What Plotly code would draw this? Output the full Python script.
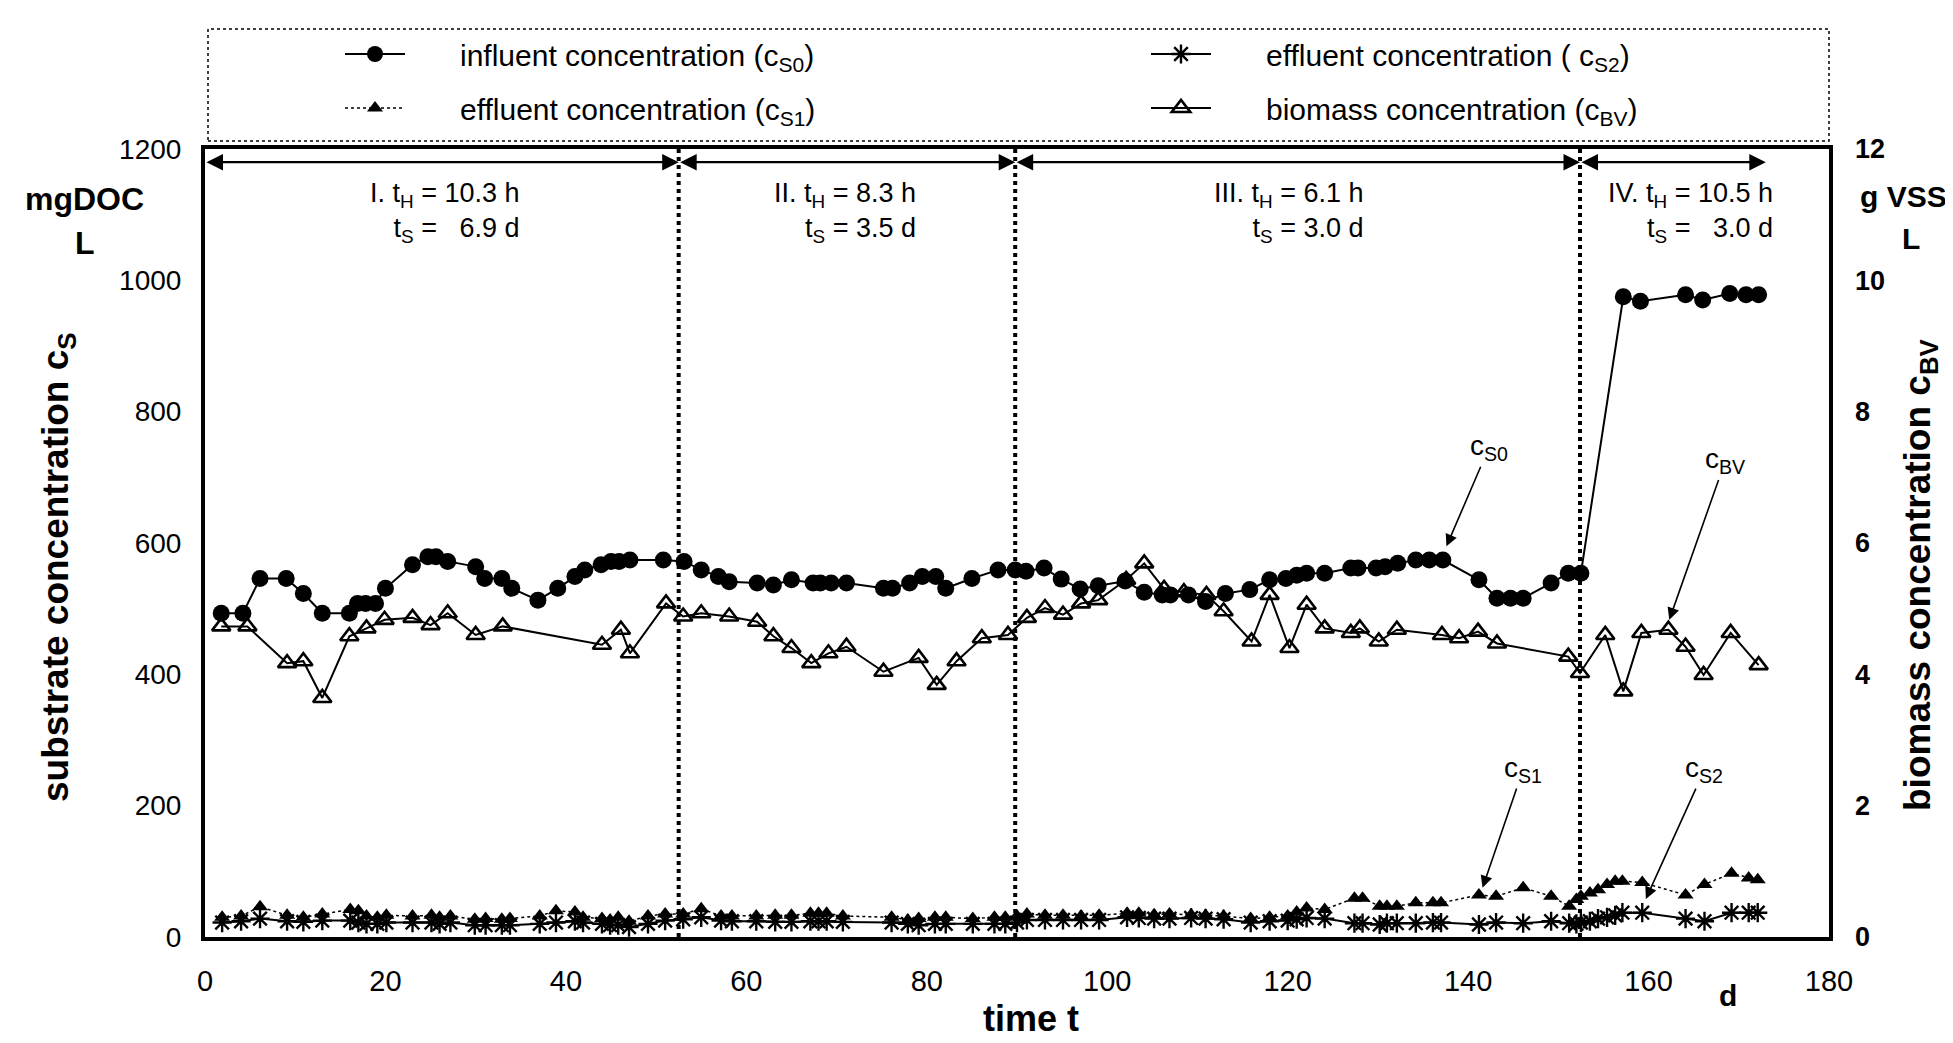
import plotly.graph_objects as go

# ---------------- data ----------------
t_s0 = [1.8, 4.2, 6.1, 9.0, 10.9, 13.0, 16.0, 16.9, 17.8, 18.9,
        20.0, 23.0, 24.7, 25.6, 26.9, 30.0, 31.0, 32.9, 34.0, 36.9,
        39.1, 41.0, 42.1, 43.9, 45.0, 45.9, 47.1, 50.8, 53.1, 55.0,
        56.9, 58.1, 61.2, 63.0, 65.0, 67.4, 68.2, 69.4, 71.1, 75.2,
        76.2, 78.1, 79.5, 81.0, 82.1, 85.0, 87.9, 89.8, 91.0, 93.0,
        94.9, 97.0, 99.0, 102.0, 104.1, 106.1, 107.0, 109.0, 110.9, 113.1,
        115.8, 118.0, 119.8, 121.0, 122.1, 124.1, 127.0, 127.8, 129.8, 130.8,
        132.2, 134.2, 135.7, 137.2, 141.2, 143.2, 144.7, 146.1, 149.2, 151.1,
        152.5, 157.2, 159.1, 164.1, 166.0, 169.0, 170.8, 172.2]
c_s0 = [493, 493, 546, 546, 523, 493, 493, 508, 508, 508,
        531, 567, 579, 579, 572, 564, 546, 546, 531, 513,
        531, 549, 559, 567, 572, 572, 574, 574, 572, 559,
        549, 541, 539, 536, 544, 539, 539, 539, 539, 531,
        531, 539, 549, 549, 531, 546, 559, 559, 557, 562,
        545, 530, 535, 542, 525, 521, 521, 521, 511, 523,
        529, 544, 546, 551, 554, 554, 562, 562, 562, 564,
        569, 574, 574, 574, 544, 516, 516, 516, 539, 554,
        554, 975, 968, 978, 970, 980, 978, 978]

t_s1 = [1.9, 4.0, 6.1, 9.1, 10.9, 13.0, 16.1, 17.0, 17.9, 19.1,
        20.1, 23.0, 25.1, 26.0, 27.2, 29.9, 31.1, 32.9, 33.8, 37.1,
        38.9, 41.0, 41.9, 44.0, 44.9, 45.8, 47.0, 49.1, 51.0, 53.0,
        55.0, 57.2, 58.4, 61.1, 63.2, 65.0, 67.1, 68.0, 68.9, 70.7,
        76.1, 77.9, 79.1, 80.9, 82.1, 85.1, 87.5, 88.7, 90.0, 91.1,
        93.1, 95.1, 97.1, 99.1, 102.2, 103.5, 105.2, 106.9, 109.3, 110.9,
        112.9, 115.9, 118.0, 120.0, 121.0, 122.1, 124.1, 127.4, 128.3, 130.2,
        131.0, 132.1, 134.2, 136.1, 137.0, 141.2, 143.1, 146.1, 149.2, 151.2,
        152.0, 152.5, 153.5, 154.4, 155.4, 156.3, 157.1, 159.3, 164.1, 166.2,
        169.2, 171.1, 172.1]
c_s1 = [30, 32, 46, 33, 30, 35, 42, 40, 32, 30,
        33, 32, 33, 30, 32, 27, 28, 27, 28, 32,
        40, 38, 30, 28, 26, 30, 24, 32, 35, 35,
        43, 32, 32, 32, 33, 33, 36, 36, 36, 32,
        30, 26, 28, 30, 30, 28, 30, 30, 32, 35,
        33, 33, 32, 33, 36, 36, 34, 35, 34, 33,
        32, 28, 30, 32, 38, 44, 42, 59, 59, 47,
        47, 47, 52, 52, 52, 64, 62, 75, 62, 47,
        57, 62, 67, 72, 80, 85, 85, 83, 64, 80,
        97, 90, 87]

t_s2 = t_s1
c_s2 = [22, 24, 28, 24, 23, 25, 25, 22, 20, 20,
        22, 22, 22, 20, 22, 18, 18, 18, 18, 20,
        22, 24, 22, 20, 18, 18, 15, 20, 25, 27,
        30, 25, 24, 24, 23, 23, 24, 24, 24, 23,
        22, 20, 18, 20, 20, 20, 20, 20, 22, 26,
        26, 26, 26, 26, 30, 29, 28, 28, 29, 28,
        27, 22, 24, 25, 27, 29, 28, 21, 21, 19,
        21, 21, 21, 22, 22, 19, 22, 21, 24, 21,
        20, 22, 24, 28, 30, 33, 37, 37, 28, 24,
        37, 37, 37]

t_bv = [1.8, 4.7, 9.1, 10.9, 13.0, 16.0, 17.9, 19.9, 23.0, 25.0,
        26.9, 30.0, 33.0, 44.0, 46.1, 47.1, 51.1, 53.0, 55.0, 58.1,
        61.2, 63.0, 65.0, 67.2, 69.1, 71.1, 75.2, 79.1, 81.1, 83.3,
        86.1, 89.0, 91.1, 93.1, 95.1, 97.1, 99.0, 102.1, 104.1, 106.3,
        108.5, 111.0, 112.9, 116.0, 118.0, 120.2, 122.1, 124.1, 127.0, 128.0,
        130.1, 132.1, 137.1, 139.0, 141.1, 143.2, 151.1, 152.4, 155.2, 157.2,
        159.2, 162.2, 164.1, 166.1, 169.1, 172.2]
c_bv = [4.73, 4.73, 4.17, 4.20, 3.64, 4.58, 4.70, 4.83, 4.86, 4.75,
        4.93, 4.60, 4.73, 4.45, 4.68, 4.32, 5.08, 4.88, 4.93, 4.88,
        4.80, 4.58, 4.40, 4.17, 4.32, 4.42, 4.04, 4.25, 3.84, 4.20,
        4.55, 4.60, 4.86, 5.01, 4.91, 5.08, 5.13, 5.44, 5.69, 5.30,
        5.25, 5.21, 4.96, 4.50, 5.21, 4.40, 5.06, 4.70, 4.63, 4.70,
        4.50, 4.68, 4.60, 4.55, 4.65, 4.47, 4.27, 4.02, 4.60, 3.74,
        4.63, 4.68, 4.42, 3.99, 4.63, 4.14]

series_names = [
    "influent concentration (c<sub>S0</sub>)",
    "effluent concentration ( c<sub>S2</sub>)",
    "effluent concentration (c<sub>S1</sub>)",
    "biomass concentration (c<sub>BV</sub>)",
]

phase_bounds = [0, 52.5, 89.8, 152.4, 173.0]
phase_labels = [
    "I. t<sub>H</sub> = 10.3 h<br>t<sub>S</sub> =\u00a0\u00a0 6.9 d",
    "II. t<sub>H</sub> = 8.3 h<br>t<sub>S</sub> = 3.5 d",
    "III. t<sub>H</sub> = 6.1 h<br>t<sub>S</sub> = 3.0 d",
    "IV. t<sub>H</sub> = 10.5 h<br>t<sub>S</sub> =\u00a0\u00a0 3.0 d",
]
phase_label_right = [35.1, 79.0, 128.7, 174.0]

x_ticks = [0, 20, 40, 60, 80, 100, 120, 140, 160, 180]
y_ticks = [0, 200, 400, 600, 800, 1000, 1200]
y2_ticks = [0, 2, 4, 6, 8, 10, 12]

x_title = "time t"
y_title = "substrate concentration c<sub>S</sub>"
y2_title = "biomass concentration c<sub>BV</sub>"

# ---------------- layout geometry ----------------
W, H = 1953, 1043
L, R, T, B = 197, 1821, 141, 929
FONT = "Liberation Sans, Arial, sans-serif"


def px(xp, yp):
    return (xp - L) / (R - L), (B - yp) / (B - T)


fig = go.Figure()

fig.add_trace(go.Scatter(
    x=t_s0, y=c_s0, name=series_names[0], mode="lines+markers",
    line=dict(color="black", width=2),
    marker=dict(symbol="circle", size=17, color="black"),
    legend="legend"))
fig.add_trace(go.Scatter(
    x=t_s2, y=c_s2, name=series_names[1], mode="lines+markers",
    line=dict(color="black", width=2),
    marker=dict(symbol="asterisk-open", size=16, color="black",
                line=dict(color="black", width=2.4)),
    legend="legend2"))
fig.add_trace(go.Scatter(
    x=t_s1, y=c_s1, name=series_names[2], mode="lines+markers",
    line=dict(color="black", width=1.5, dash="dot"),
    marker=dict(symbol="triangle-up", size=14, color="black"),
    legend="legend3"))
fig.add_trace(go.Scatter(
    x=t_bv, y=c_bv, name=series_names[3], mode="lines+markers", yaxis="y2",
    line=dict(color="black", width=2),
    marker=dict(symbol="triangle-up-open", size=16, color="black",
                line=dict(color="black", width=2.6)),
    legend="legend4"))

# phase boundaries (dotted verticals)
for xb in phase_bounds[1:-1]:
    fig.add_shape(type="line", x0=xb, x1=xb, y0=0, y1=1200, xref="x", yref="y",
                  line=dict(color="black", width=4, dash="dot"))

annotations = []
# double-headed arrows for the phases + phase labels
for i in range(4):
    annotations.append(dict(
        x=phase_bounds[i + 1], y=1180, ax=phase_bounds[i], ay=1180,
        xref="x", yref="y", axref="x", ayref="y", text="",
        showarrow=True, arrowhead=2, arrowside="end+start",
        arrowsize=1.5, arrowwidth=2.2, arrowcolor="black"))
    annotations.append(dict(
        x=phase_label_right[i], y=1103, xref="x", yref="y",
        xanchor="right", yanchor="middle", align="right",
        text=phase_labels[i], showarrow=False,
        font=dict(family=FONT, size=27, color="black")))

# curve labels with arrows
curve_labels = [
    ("c<sub>S0</sub>", 142.3, 745, 137.6, 595),
    ("c<sub>BV</sub>", 168.5, 725, 162.3, 483),
    ("c<sub>S1</sub>", 146.1, 255, 141.6, 75),
    ("c<sub>S2</sub>", 166.2, 255, 159.7, 58),
]
for txt, tx, ty, hx, hy in curve_labels:
    annotations.append(dict(
        x=hx, y=hy, ax=tx, ay=ty, xref="x", yref="y", axref="x", ayref="y",
        text=txt, showarrow=True, arrowhead=2, arrowsize=1.5, arrowwidth=1.6,
        arrowcolor="black", font=dict(family=FONT, size=28, color="black")))

# units
for txt, xp, yp, fs in [("mgDOC", 77, 191, 32), ("L", 77, 235, 32),
                        ("g VSS", 1895, 188, 30), ("L", 1903, 231, 30),
                        ("d", 1720, 987, 30)]:
    xx, yy = px(xp, yp)
    annotations.append(dict(
        x=xx, y=yy, xref="paper", yref="paper", text=txt, showarrow=False,
        xanchor="center", yanchor="middle",
        font=dict(family=FONT, size=fs, color="black", weight="bold")))

# axis titles
for txt, xp, yp, ang, fs in [(y_title, 50, 559, -90, 37),
                             (y2_title, 1912, 567, -90, 37),
                             (x_title, 1023, 1011, 0, 36)]:
    xx, yy = px(xp, yp)
    annotations.append(dict(
        x=xx, y=yy, xref="paper", yref="paper", text=txt, showarrow=False,
        xanchor="center", yanchor="middle", textangle=ang, borderpad=0,
        font=dict(family=FONT, size=fs, color="black", weight="bold")))

# legend frame (dotted)
lx0, ly0 = px(200, 133)
lx1, ly1 = px(1821, 21)
fig.add_shape(type="rect", xref="paper", yref="paper", x0=lx0, x1=lx1, y0=ly0, y1=ly1,
              line=dict(color="black", width=1.5, dash="dot"))

leg_common = dict(xref="container", yref="container", xanchor="left", yanchor="middle",
                  bgcolor="rgba(0,0,0,0)", borderwidth=0,
                  font=dict(family=FONT, size=30, color="black"), itemwidth=60)
pad = "\u00a0" * 6
fig.update_layout(
    showlegend=True,
    legend=dict(x=332 / W, y=1 - 46 / H, **leg_common),
    legend2=dict(x=1138 / W, y=1 - 46 / H, **leg_common),
    legend3=dict(x=332 / W, y=1 - 100 / H, **leg_common),
    legend4=dict(x=1138 / W, y=1 - 100 / H, **leg_common),
)
for tr in fig.data:
    tr.name = pad + tr.name
    tr.showlegend = True

fig.update_layout(
    width=W, height=H,
    margin=dict(l=L, r=W - R, t=T, b=H - B, pad=0, autoexpand=False),
    paper_bgcolor="white", plot_bgcolor="white",
    font=dict(family=FONT, color="black"),
    annotations=annotations,
    xaxis=dict(range=[0, 180], tickvals=x_ticks, showgrid=False, zeroline=False,
               showline=True, linecolor="black", linewidth=4, mirror=True,
               ticks="", ticklabelstandoff=15, automargin=False,
               tickfont=dict(family=FONT, size=29)),
    yaxis=dict(range=[0, 1200], tickvals=y_ticks, showgrid=False, zeroline=False,
               showline=True, linecolor="black", linewidth=4, mirror=True,
               ticks="", ticklabelstandoff=14, automargin=False,
               tickfont=dict(family=FONT, size=28)),
    yaxis2=dict(range=[0, 12], tickvals=y2_ticks, overlaying="y", side="right",
                showgrid=False, zeroline=False, showline=False,
                ticks="", ticklabelstandoff=25, automargin=False,
                tickfont=dict(family=FONT, size=27, weight="bold")),
)

fig.write_html("out.html")
